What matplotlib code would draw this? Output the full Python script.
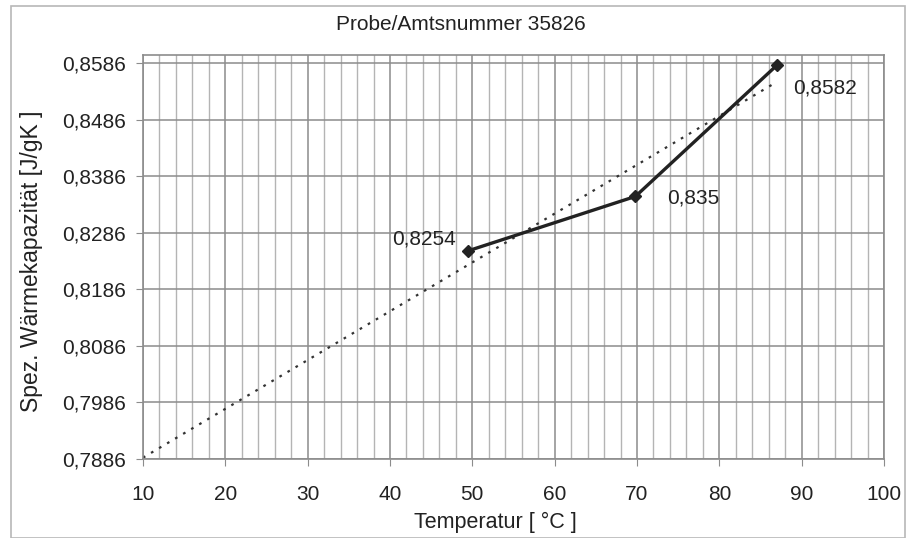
import matplotlib.pyplot as plt
import numpy as np
from matplotlib.ticker import MultipleLocator, FuncFormatter

plt.rcParams['font.family'] = ['Liberation Sans', 'DejaVu Sans']

# Messwerte
temp = [49.5, 69.8, 87.0]
cp = [0.8254, 0.835, 0.8582]
labels = ['0,8254', '0,835', '0,8582']
yticks = [0.7886, 0.7986, 0.8086, 0.8186, 0.8286, 0.8386, 0.8486, 0.8586]

fig = plt.figure(figsize=(9.07, 5.38), dpi=100)
ax = fig.add_axes([143/907, (538-459)/538, (884-143)/907, (459-55)/538])

# Trendlinie (linear, rückwärts bis 10 verlängert)
m, b = np.polyfit(temp, cp, 1)
xt = np.array([10, temp[-1]])
ax.plot(xt, m*xt + b, color='#333333', lw=1.6, ls=(0, (1.2, 3)))

ax.plot(temp, cp, color='#222222', lw=2.4, marker='D', ms=6, zorder=5)

offs = [(-12, 12, 'right'), (32, -2, 'left'), (16, -23, 'left')]
for x, y, t, o in zip(temp, cp, labels, offs):
    ax.annotate(t, (x, y), xytext=o[:2], textcoords='offset pixels', fontsize=15,
                color='#222222', ha=o[2], va='center')

ax.set_xlim(10, 100)
ax.set_ylim(0.7886, 0.8600)
ax.set_yticks(yticks)
ax.xaxis.set_major_locator(MultipleLocator(10))
ax.xaxis.set_minor_locator(MultipleLocator(2))
ax.yaxis.set_major_formatter(FuncFormatter(lambda v, p: ('%.4f' % v).replace('.', ',')))
ax.grid(which='major', color='#8c8c8c', lw=1.1)
ax.grid(which='minor', axis='x', color='#b4b4b4', lw=1.0)
ax.tick_params(which='both', labelsize=15, color='#8c8c8c', length=5, labelcolor='#222222')
ax.tick_params(axis='x', pad=14)
ax.tick_params(axis='y', pad=7)
ax.tick_params(which='minor', length=0)
for s in ax.spines.values():
    s.set_color('#8c8c8c')
    s.set_linewidth(1.2)

ax.set_xlabel('Temperatur [ °C ]', fontsize=15.5, color='#222222')
ax.set_ylabel('Spez. Wärmekapazität [J/gK ]', fontsize=16.5, color='#222222')
ax.xaxis.set_label_coords(0.475, -0.13)
ax.yaxis.set_label_coords(-0.135, 0.49)
fig.text(0.508, 1 - 25/538, 'Probe/Amtsnummer 35826', ha='center', va='center',
         fontsize=15, color='#222222')

# Rahmen um das Diagramm
fig.add_artist(plt.Rectangle((11/907, 0), (905-11)/907, (538-6)/538, transform=fig.transFigure,
                             fill=False, edgecolor='#b8b8b8', lw=1.2))

fig.savefig('out.png', dpi=100)
